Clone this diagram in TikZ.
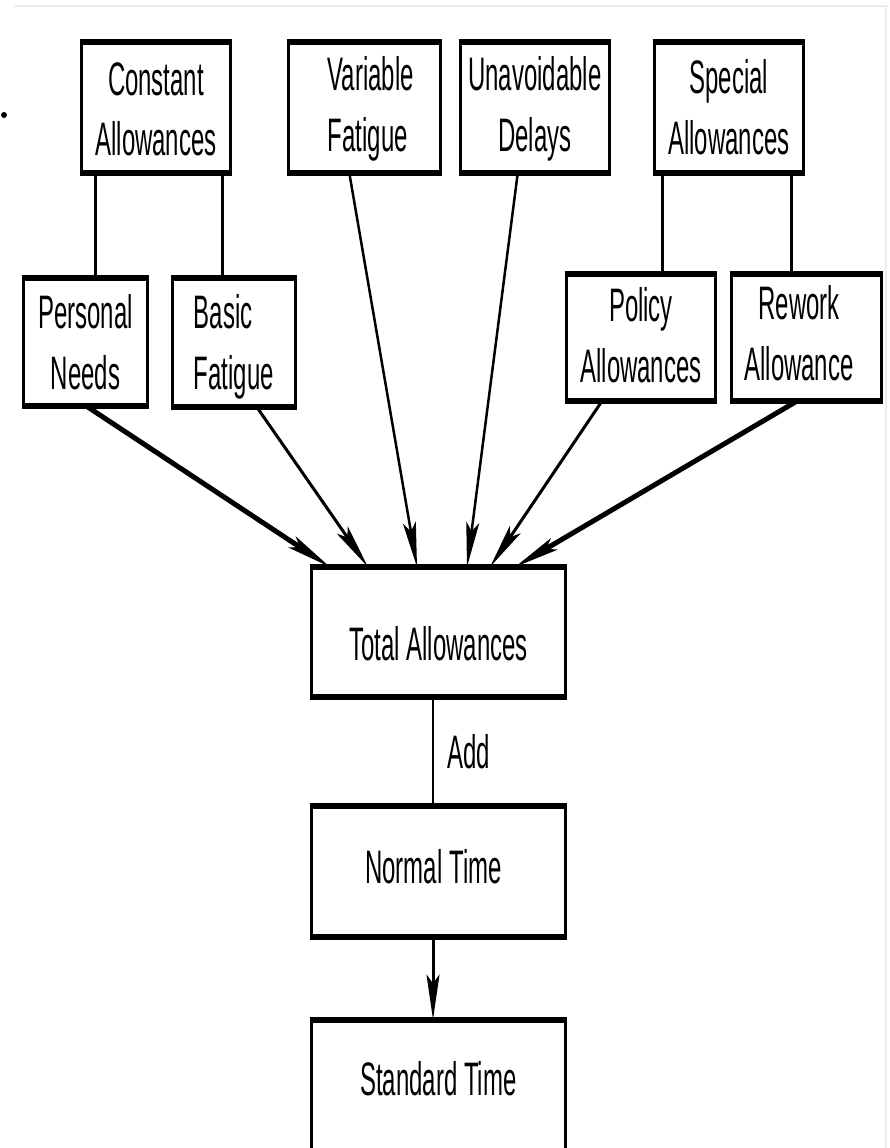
\documentclass[tikz,border=0pt]{standalone}
\usepackage{fontspec}
\setmainfont[FakeStretch=0.51]{Liberation Sans}
\usetikzlibrary{arrows.meta}
\newcommand\tbl[4]{\begin{tabular}[t]{@{\hspace{#1}}#2@{\hspace{#3}}}#4\end{tabular}}
\begin{document}
\begin{tikzpicture}[x=1pt,y=-1pt,
  every node/.style={font=\fontsize{47}{61}\selectfont},
  bx/.style={draw, line width=3pt, inner sep=0pt, outer sep=0pt, text height=40pt},
  rim/.style={line width=6pt, shorten <=-1.5pt, shorten >=-1.5pt},
  arr/.style={-{Stealth[length=45pt,width=13pt,inset=9pt]}},
  link/.style={line width=3pt}
]
\useasboundingbox (0,0) rectangle (889,1148);
\clip (0,0) rectangle (889,1148);
\fill[white] (0,0) rectangle (889,1148);
% faint frame of the screenshot
\draw[line width=2pt, black!7] (14,6) -- (889,6);
\draw[line width=2pt, black!7] (886,6) -- (886,1148);
\fill (4,115) circle (3pt);

% top row
\node[bx, minimum width=149pt, minimum height=131pt, text depth=65pt] (ca) at (156,107.5) {\tbl{0pt}{c}{0pt}{Constant\\Allowances}};
\node[bx, minimum width=151.5pt, minimum height=131pt, text depth=75pt] (vf) at (364.3,107.5) {\tbl{13pt}{l}{0pt}{Variable\\Fatigue}};
\node[bx, minimum width=149.5pt, minimum height=131pt, text depth=75pt] (ud) at (534.75,107.5) {\tbl{0pt}{c}{0pt}{Unavoidable\\Delays}};
\node[bx, minimum width=149.5pt, minimum height=131pt, text depth=69pt] (sa) at (728.75,107.5) {\tbl{0pt}{c}{0pt}{Special\\Allowances}};

% second row
\node[bx, minimum width=124pt, minimum height=127.5pt, text depth=67.5pt] (pn) at (85.5,341.75) {\tbl{0pt}{c}{0pt}{Personal\\Needs}};
\node[bx, minimum width=122.5pt, minimum height=129pt, text depth=69pt] (bf) at (233.75,342.5) {\tbl{0pt}{l}{0pt}{Basic\\Fatigue}};
\node[bx, minimum width=149pt, minimum height=127.3pt, text depth=71pt] (pa) at (641,337.4) {\tbl{0pt}{c}{0pt}{Policy\\Allowances}};
\node[bx, minimum width=150pt, minimum height=127.3pt, text depth=75pt] (ra) at (806,337.4) {\tbl{0pt}{c}{14pt}{Rework\\Allowance}};

% column
\node[bx, minimum width=254pt, minimum height=130pt, text height=60pt, text depth=4pt] (ta) at (438.5,632) {Total Allowances};
\node[bx, minimum width=254.5pt, minimum height=131pt, text height=60pt, text depth=37pt] (nt) at (438.25,871.5) {\tbl{0pt}{c}{9.5pt}{Normal Time}};
\node[bx, minimum width=254.5pt, minimum height=131pt, text height=60pt, text depth=40pt] (st) at (438.25,1085) {Standard Time};

% thick top and bottom rims
\foreach \n in {ca,vf,ud,sa,pn,bf,pa,ra,ta,nt,st}{
  \draw[rim] (\n.north west) -- (\n.north east);
  \draw[rim] (\n.south west) -- (\n.south east);
}

% parent-child links
\draw[link] ([xshift=-61pt]ca.south) -- ([xshift=9.5pt]pn.north);
\draw[link] ([xshift=66pt]ca.south) -- ([xshift=-11.75pt]bf.north);
\draw[link] ([xshift=-66.75pt]sa.south) -- ([xshift=21pt]pa.north);
\draw[link] ([xshift=62.25pt]sa.south) -- ([xshift=-15pt]ra.north);

% arrows into Total Allowances
\draw[arr, line width=5pt] (pn.south) -- ([xshift=-108.5pt]ta.north);
\draw[arr, line width=3pt] ([xshift=23pt]bf.south) -- ([xshift=-70.5pt]ta.north);
\draw[arr, line width=2.5pt] ([xshift=-15pt]vf.south) -- ([xshift=-21.5pt]ta.north);
\draw[arr, line width=2.5pt] ([xshift=-17pt]ud.south) -- ([xshift=28.5pt]ta.north);
\draw[arr, line width=3pt] ([xshift=-39pt]pa.south) -- ([xshift=51.5pt]ta.north);
\draw[arr, line width=5pt] ([xshift=-9pt]ra.south) -- ([xshift=76.5pt]ta.north);

% column connectors
\draw[line width=2.5pt] ([xshift=-5.5pt]ta.south) -- node[anchor=west, xshift=13pt, inner sep=0pt] (addlbl) {Add} ([xshift=-5.25pt]nt.north);
\draw[arr, line width=3pt] ([xshift=-5.25pt]nt.south) -- ([xshift=-5.25pt]st.north);
\end{tikzpicture}
\end{document}
